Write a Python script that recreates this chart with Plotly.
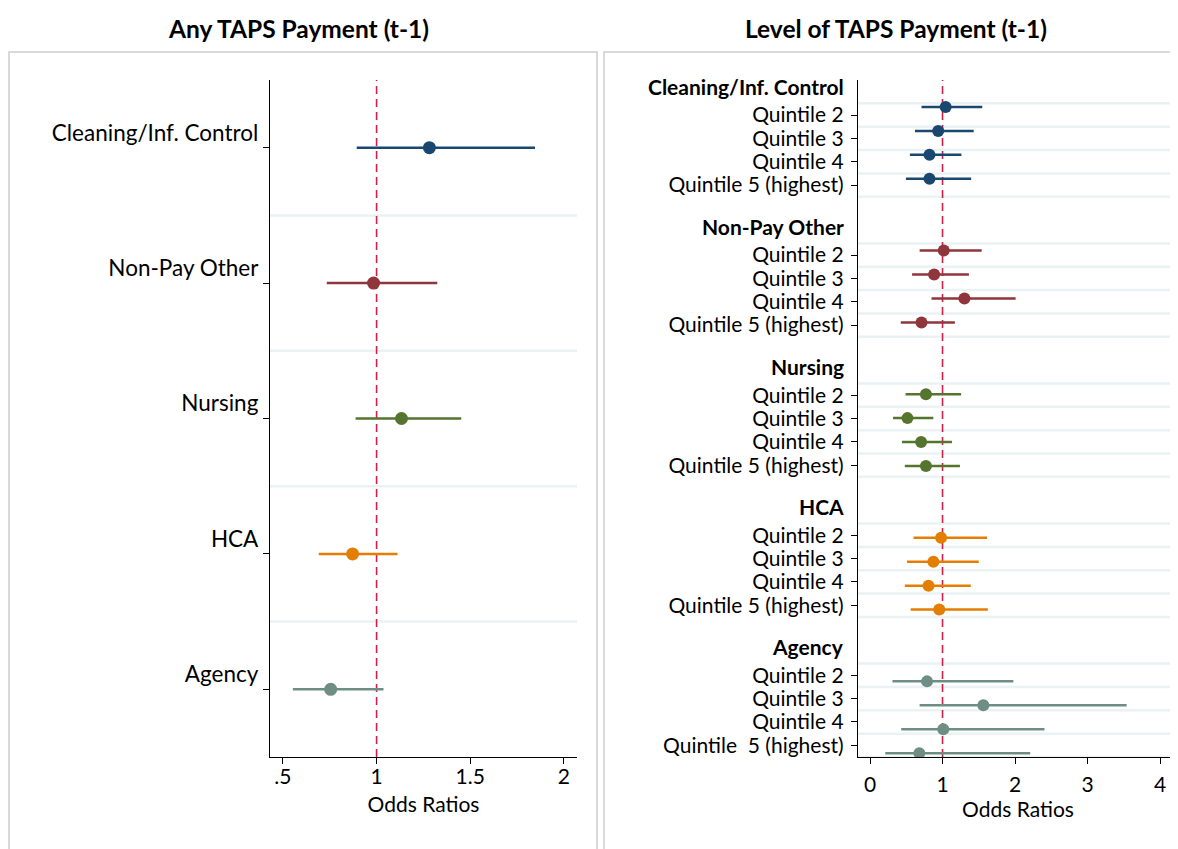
import plotly.graph_objects as go

# ---------------- data ----------------
categories = ["Cleaning/Inf. Control", "Non-Pay Other", "Nursing", "HCA", "Agency"]
group_colors = ["#1a476f", "#90353b", "#55752f", "#e37e00", "#6e8e84"]

# Left panel: Any TAPS payment (t-1)
any_or = [1.282, 0.984, 1.133, 0.872, 0.755]
any_lo = [0.894, 0.734, 0.888, 0.691, 0.553]
any_hi = [1.846, 1.324, 1.452, 1.112, 1.037]

# Right panel: level of TAPS payment (t-1), quintiles 2-5 per group
quintile_labels = ["Quintile 2", "Quintile 3", "Quintile 4", "Quintile 5 (highest)"]
agency_quintile_labels = ["Quintile 2", "Quintile 3", "Quintile 4", "Quintile \u00a05 (highest)"]

cleaning_or = [1.043, 0.940, 0.820, 0.820]
cleaning_lo = [0.710, 0.620, 0.550, 0.495]
cleaning_hi = [1.548, 1.430, 1.260, 1.395]

nonpay_or = [1.017, 0.884, 1.302, 0.710]
nonpay_lo = [0.684, 0.580, 0.848, 0.424]
nonpay_hi = [1.540, 1.364, 2.008, 1.170]

nursing_or = [0.771, 0.516, 0.705, 0.771]
nursing_lo = [0.490, 0.317, 0.440, 0.480]
nursing_hi = [1.256, 0.873, 1.130, 1.240]

hca_or = [0.980, 0.874, 0.807, 0.955]
hca_lo = [0.600, 0.510, 0.480, 0.560]
hca_hi = [1.614, 1.500, 1.390, 1.625]

agency_or = [0.786, 1.563, 1.010, 0.680]
agency_lo = [0.310, 0.684, 0.430, 0.210]
agency_hi = [1.977, 3.540, 2.406, 2.210]

left_ticks = [".5", "1", "1.5", "2"]
left_tickvals = [0.5, 1, 1.5, 2]
right_tickvals = [0, 1, 2, 3, 4]

# ---------------- styling ----------------
PAGE_OFF = 8            # default body margin of the html page
W, H = 1178 - PAGE_OFF, 849 - PAGE_OFF
FONT = "Lato, sans-serif"
REF = "#cf1f4b"
GRID = "#eaf2f3"
BOX = "#d9d9d9"


def px_x(p):
    return (p - PAGE_OFF) / W


def px_y(p):
    return 1 - (p - PAGE_OFF) / H


Y_DOM = [px_y(757), px_y(80)]

fig = go.Figure()

# ---------------- left panel ----------------
left_pos = list(range(1, len(categories) + 1))
for i, cat in enumerate(categories):
    fig.add_trace(go.Scatter(
        x=[any_or[i]], y=[left_pos[i]], mode="markers",
        marker=dict(size=13, color=group_colors[i]),
        error_x=dict(type="data", symmetric=False,
                     array=[any_hi[i] - any_or[i]],
                     arrayminus=[any_or[i] - any_lo[i]],
                     thickness=2.5, width=0, color=group_colors[i]),
        xaxis="x", yaxis="y", showlegend=False, name=cat,
    ))

# ---------------- right panel ----------------
groups = [
    (cleaning_or, cleaning_lo, cleaning_hi, quintile_labels),
    (nonpay_or, nonpay_lo, nonpay_hi, quintile_labels),
    (nursing_or, nursing_lo, nursing_hi, quintile_labels),
    (hca_or, hca_lo, hca_hi, quintile_labels),
    (agency_or, agency_lo, agency_hi, agency_quintile_labels),
]
ROWS_PER_GROUP = 6
right_tick_pos, right_tick_text, header_rows, grid_rows = [], [], [], []
for g, (o, lo, hi, labs) in enumerate(groups):
    head = g * ROWS_PER_GROUP
    header_rows.append(head)
    rows = [head + 1 + q for q in range(len(o))]
    right_tick_pos += rows
    right_tick_text += labs
    grid_rows += [r - 0.5 for r in rows] + [rows[-1] + 0.5]
    fig.add_trace(go.Scatter(
        x=o, y=rows, mode="markers",
        marker=dict(size=12, color=group_colors[g]),
        error_x=dict(type="data", symmetric=False,
                     array=[h - v for h, v in zip(hi, o)],
                     arrayminus=[v - l for v, l in zip(o, lo)],
                     thickness=2.5, width=0, color=group_colors[g]),
        xaxis="x2", yaxis="y3", showlegend=False, name=categories[g],
    ))

n_rows = header_rows[-1] + 1 + len(groups[-1][0])

shapes = []
# panel boxes
shapes.append(dict(type="rect", xref="paper", yref="paper",
                   x0=px_x(9), x1=px_x(597), y0=-0.03, y1=px_y(52),
                   line=dict(color=BOX, width=2), layer="below"))
shapes.append(dict(type="rect", xref="paper", yref="paper",
                   x0=px_x(604), x1=1.03, y0=-0.03, y1=px_y(52),
                   line=dict(color=BOX, width=2), layer="below"))
# left gridlines between categories
for p in left_pos[:-1]:
    shapes.append(dict(type="line", xref="x domain", yref="y", x0=0, x1=1,
                       y0=p + 0.5, y1=p + 0.5, line=dict(color=GRID, width=2.5),
                       layer="below"))
# right gridlines
for r in grid_rows:
    shapes.append(dict(type="line", xref="x2 domain", yref="y2", x0=0, x1=1,
                       y0=r, y1=r, line=dict(color=GRID, width=2.5), layer="below"))
# reference lines at OR = 1
shapes.append(dict(type="line", xref="x", yref="y domain", x0=1, x1=1, y0=0, y1=1,
                   line=dict(color=REF, width=1.6, dash="8px,5px"), layer="below"))
shapes.append(dict(type="line", xref="x2", yref="y2 domain", x0=1, x1=1, y0=0, y1=1,
                   line=dict(color=REF, width=1.6, dash="8px,5px"), layer="below"))

annotations = [
    dict(text="<b>Any TAPS Payment (t-1)</b>", xref="paper", yref="paper",
         x=px_x(298), y=px_y(28), xanchor="center", yanchor="middle",
         showarrow=False, font=dict(size=24.5, color="black")),
    dict(text="<b>Level of TAPS Payment (t-1)</b>", xref="paper", yref="paper",
         x=px_x(896), y=px_y(28), xanchor="center", yanchor="middle",
         showarrow=False, font=dict(size=24.5, color="black")),
]
for g, head in enumerate(header_rows):
    annotations.append(dict(text="<b>" + categories[g] + "</b>", xref="x2 domain", yref="y2",
                            x=0, y=head, xanchor="right", yanchor="middle",
                            xshift=-12, yshift=5,
                            showarrow=False, font=dict(size=21, color="black")))

axis_common = dict(showline=True, linecolor="black", linewidth=1.3, ticks="outside",
                   ticklen=6, tickcolor="black", tickwidth=1.2, showgrid=False,
                   zeroline=False, tickfont=dict(size=21, color="black"))

fig.update_layout(
    width=W, height=H, margin=dict(l=0, r=0, t=0, b=0),
    paper_bgcolor="white", plot_bgcolor="white",
    font=dict(family=FONT, color="black"),
    shapes=shapes, annotations=annotations,
    xaxis=dict(domain=[px_x(270), px_x(577)], range=[0.431, 2.070],
               tickvals=left_tickvals, ticktext=left_ticks, anchor="y",
               ticklabelstandoff=-5,
               title=dict(text="Odds Ratios", font=dict(size=21), standoff=9),
               **axis_common),
    yaxis=dict(domain=Y_DOM, range=[len(categories) + 0.5, 0.5],
               tickvals=left_pos, ticktext=categories, anchor="x",
               ticklabelshift=15, ticklabelstandoff=0,
               **{**axis_common, "tickfont": dict(size=22.5, color="black")}),
    xaxis2=dict(domain=[px_x(858), 1.0], range=[-0.166, 4.248],
                tickvals=right_tickvals, anchor="y2", ticklabelstandoff=3,
                title=dict(text="Odds Ratios", font=dict(size=21), standoff=0),
                **axis_common),
    yaxis2=dict(domain=Y_DOM, range=[n_rows - 0.5, -0.5],
                tickvals=right_tick_pos, ticktext=right_tick_text, anchor="x2",
                ticklabelstandoff=3, **axis_common),
    yaxis3=dict(domain=Y_DOM, range=[28.16, -0.128], overlaying="y2", anchor="x2",
                visible=False),
)

fig.write_html("out.html")
